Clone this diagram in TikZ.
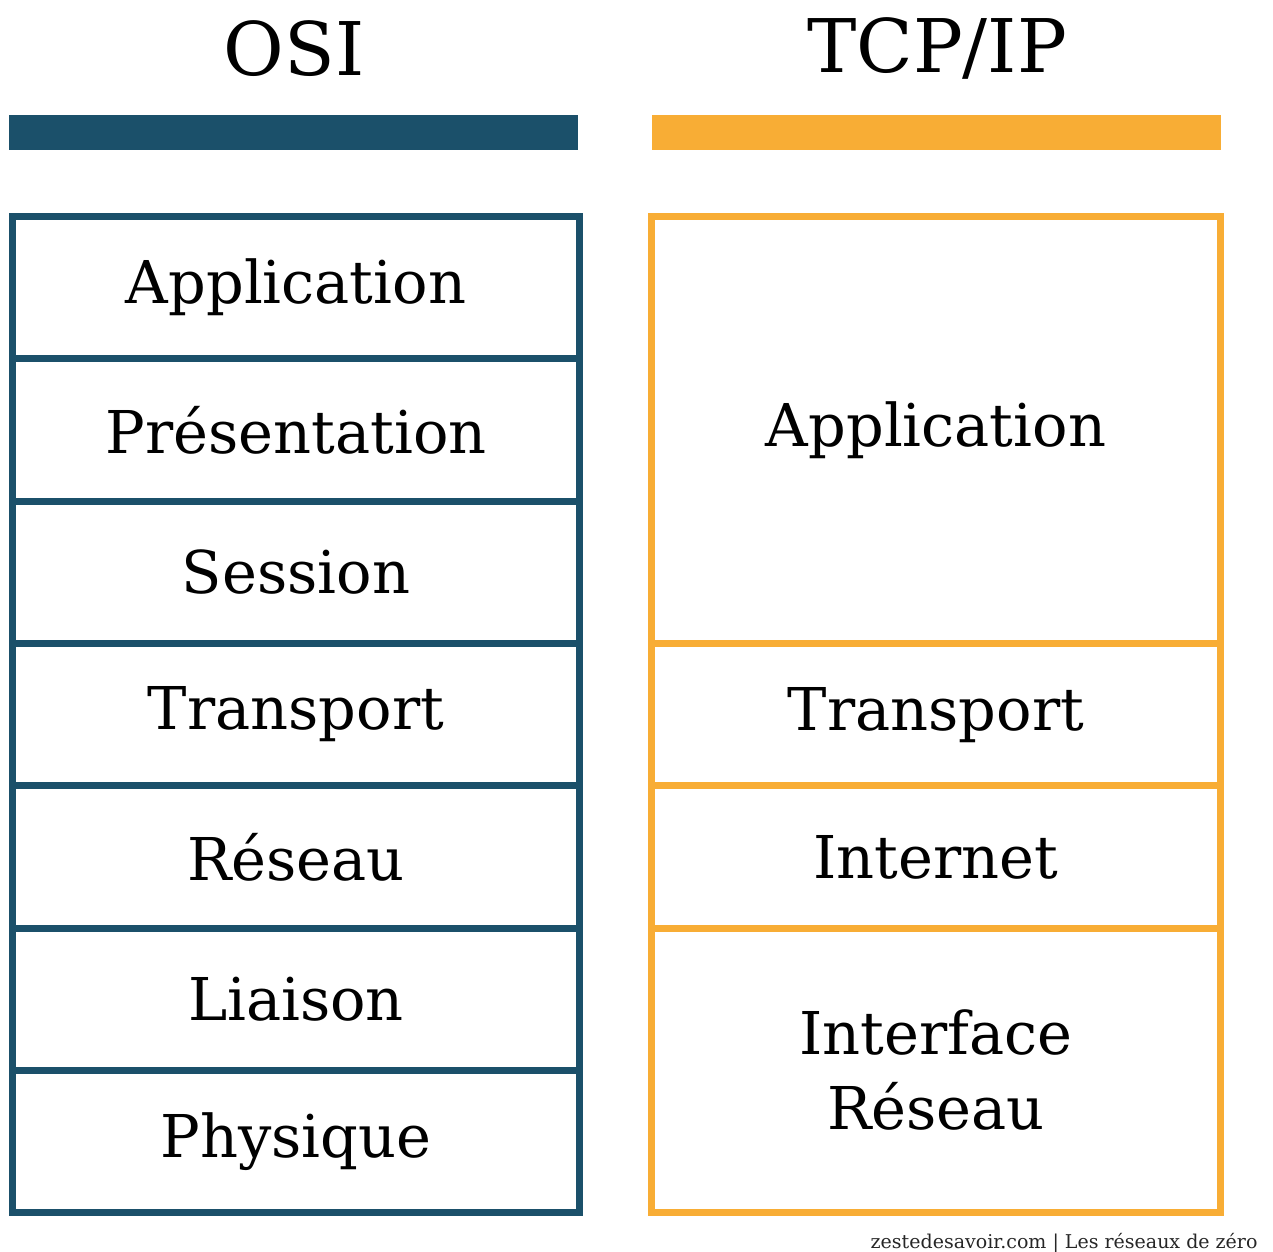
\documentclass[tikz,border=0pt]{standalone}
\usepackage{fontspec}
\setmainfont{DejaVu Serif}
\usetikzlibrary{positioning}

\definecolor{osiblue}{RGB}{27,80,106}
\definecolor{tcporange}{RGB}{248,173,53}

\begin{document}
\begin{tikzpicture}[x=1pt,y=-1pt,
    layer/.style={draw,line width=7pt,minimum height=142.3pt,inner sep=0pt,outer sep=0pt,
      align=center,font=\fontsize{59}{75}\selectfont},
    osi/.style={layer,draw=osiblue,minimum width=567pt},
    tcp/.style={layer,draw=tcporange,minimum width=569pt},
    title/.style={anchor=base,font=\fontsize{74}{80}\selectfont}]
    \useasboundingbox (0,0) rectangle (1273,1251);
    %titles
    \node[title] (osititle) at (294,75) {OSI};
    \node[title] (tcptitle) at (937,72) {TCP/IP};
    \fill[osiblue] (9,115) rectangle (578,150);
    \fill[tcporange] (652,115) rectangle (1221,150);
    %OSI
    \node[osi,anchor=north west] (oapp) at (12.5,216.5) {Application};
    \node[osi,below=0pt of oapp] (opres) {Présentation};
    \node[osi,below=0pt of opres] (osess) {Session};
    \node[osi,below=0pt of osess] (otrans) {Transport};
    \node[osi,below=0pt of otrans] (ores) {Réseau};
    \node[osi,below=0pt of ores] (oliai) {Liaison};
    \node[osi,below=0pt of oliai] (ophys) {Physique};
    %TCP/IP
    \node[tcp,anchor=north west,minimum height=427pt] (tapp) at (651.5,216.5) {Application};
    \node[tcp,below=0pt of tapp] (ttrans) {Transport};
    \node[tcp,below=0pt of ttrans] (tinet) {Internet};
    \node[tcp,below=0pt of tinet,minimum height=284.6pt] (tiface) {Interface\\Réseau};
    %footer
    \node[anchor=base east,font=\fontsize{19}{20}\selectfont,text=black!85] (credit) at (1261,1248)
      {zestedesavoir.com | Les réseaux de zéro};
\end{tikzpicture}
\end{document}
